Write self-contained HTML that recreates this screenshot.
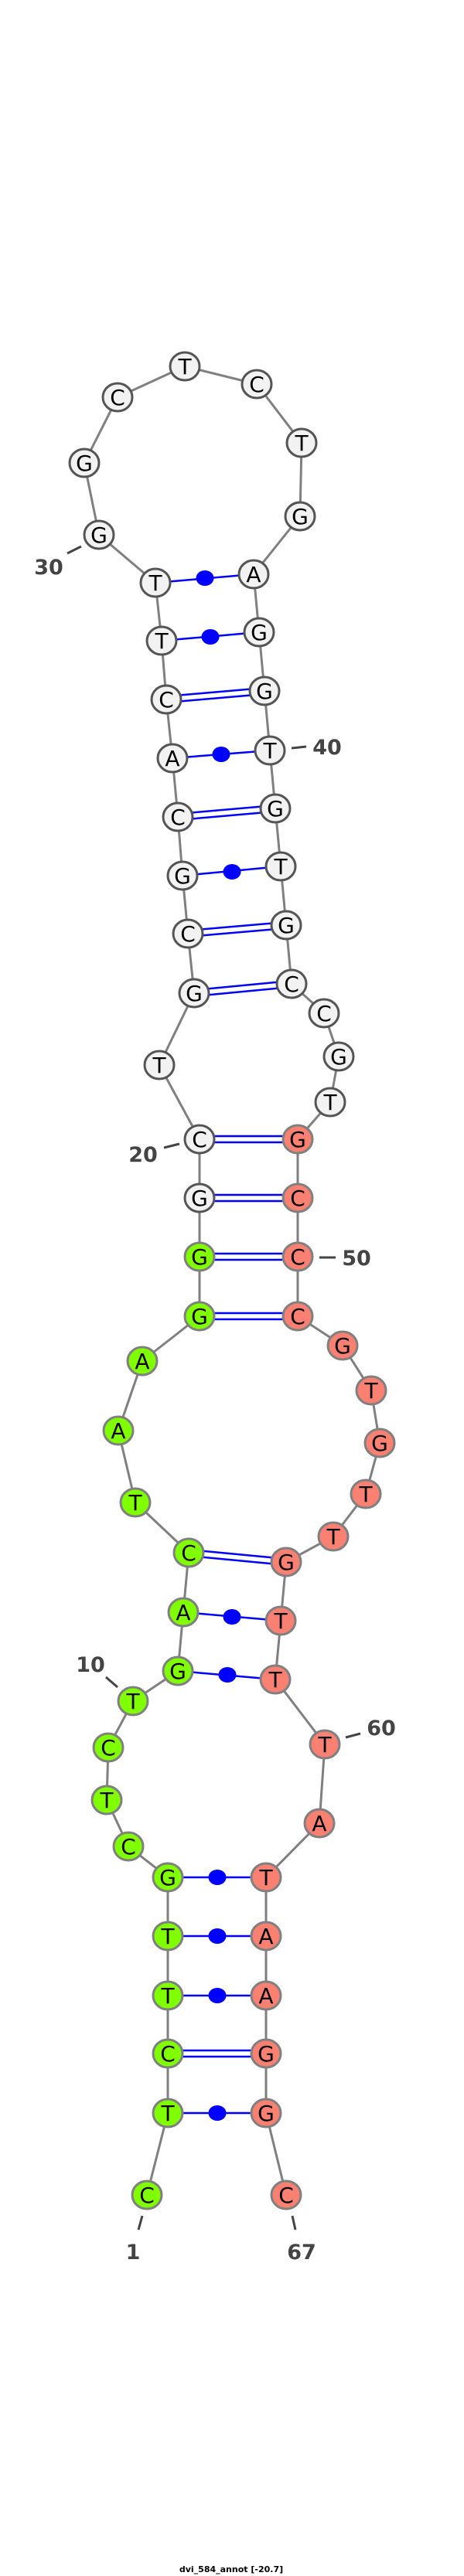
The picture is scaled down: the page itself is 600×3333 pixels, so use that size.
<!DOCTYPE html>
<html><head><meta charset="utf-8">
<style>
html,body{margin:0;padding:0;background:#fff;}
svg{display:block;}
.bb{fill:none;stroke:#808080;stroke-width:3;}
.bp{stroke:#0000ff;stroke-width:2.5;}
.dot{fill:#0000ff;}
.w{fill:#f2f2f2;stroke:#555;stroke-width:3;}
.g{fill:#7fff00;stroke:#808080;stroke-width:3;}
.r{fill:#fa8072;stroke:#808080;stroke-width:3;}
.t{font-family:"DejaVu Sans","Liberation Sans",sans-serif;font-size:28px;text-anchor:middle;fill:#000;}
.lab{font-family:"DejaVu Sans","Liberation Sans",sans-serif;font-size:27px;font-weight:bold;fill:#444;}
.tick{stroke:#444;stroke-width:3;}
</style></head><body>
<svg width="600" height="3333" viewBox="0 0 600 3333" xmlns="http://www.w3.org/2000/svg">
<polyline class="bb" points="190,2840 217,2734 217,2657 217,2582 217,2505 217,2429 166,2389 138,2329 140,2261 172,2201 230,2162 237,2086 244,2009 175,1944 153,1851 184,1761 258,1703 258,1626 258,1550 258,1474 206,1378 251,1285 243,1208 236,1133 230,1057 223,981 215,905 209,829 201,754 128,692 109,599 152,514 239,474 332,497 390,573 388,668 328,743 335,818 342,894 349,971 356,1046 363,1121 370,1197 377,1273 419,1311 438,1367 427,1426 385,1474 385,1550 385,1626 385,1703 443,1741 480,1799 491,1867 473,1933 431,1988 370,2021 363,2097 356,2173 420,2257 413,2359 344,2429 344,2505 344,2582 344,2657 344,2734 370,2840"/>
<!-- single pairs with dots -->
<g class="bp">
<line x1="217" y1="2734" x2="344" y2="2734"/>
<line x1="217" y1="2582" x2="344" y2="2582"/>
<line x1="217" y1="2505" x2="344" y2="2505"/>
<line x1="217" y1="2429" x2="344" y2="2429"/>
<line x1="230" y1="2162" x2="356" y2="2173"/>
<line x1="237" y1="2086" x2="363" y2="2097"/>
<line x1="236" y1="1133" x2="363" y2="1121"/>
<line x1="223" y1="981" x2="349" y2="971"/>
<line x1="209" y1="829" x2="335" y2="818"/>
<line x1="201" y1="754" x2="328" y2="743"/>
<!-- doubles -->
<line x1="217" y1="2653" x2="344" y2="2653"/><line x1="217" y1="2661" x2="344" y2="2661"/>
<line x1="244" y1="2005" x2="370" y2="2017"/><line x1="244" y1="2013" x2="370" y2="2025"/>
<line x1="258" y1="1699" x2="385" y2="1699"/><line x1="258" y1="1707" x2="385" y2="1707"/>
<line x1="258" y1="1622" x2="385" y2="1622"/><line x1="258" y1="1630" x2="385" y2="1630"/>
<line x1="258" y1="1546" x2="385" y2="1546"/><line x1="258" y1="1554" x2="385" y2="1554"/>
<line x1="258" y1="1470" x2="385" y2="1470"/><line x1="258" y1="1478" x2="385" y2="1478"/>
<line x1="251" y1="1281" x2="377" y2="1269"/><line x1="251" y1="1289" x2="377" y2="1277"/>
<line x1="243" y1="1204" x2="370" y2="1193"/><line x1="243" y1="1212" x2="370" y2="1201"/>
<line x1="230" y1="1053" x2="356" y2="1042"/><line x1="230" y1="1061" x2="356" y2="1050"/>
<line x1="215" y1="901" x2="342" y2="890"/><line x1="215" y1="909" x2="342" y2="898"/>
</g>
<g class="dot">
<ellipse cx="281" cy="2734" rx="11.5" ry="10"/>
<ellipse cx="281" cy="2582" rx="11.5" ry="10"/>
<ellipse cx="281" cy="2505" rx="11.5" ry="10"/>
<ellipse cx="281" cy="2429" rx="11.5" ry="10"/>
<ellipse cx="294" cy="2167" rx="11.5" ry="10"/>
<ellipse cx="300" cy="2092" rx="11.5" ry="10"/>
<ellipse cx="300" cy="1128" rx="11.5" ry="10"/>
<ellipse cx="286" cy="976" rx="11.5" ry="10"/>
<ellipse cx="272" cy="824" rx="11.5" ry="10"/>
<ellipse cx="265" cy="748" rx="11.5" ry="10"/>
</g>
<!-- nodes -->
<g>
<ellipse class="g" cx="190" cy="2840" rx="19" ry="18"/>
<ellipse class="g" cx="217" cy="2734" rx="19" ry="18"/>
<ellipse class="g" cx="217" cy="2657" rx="19" ry="18"/>
<ellipse class="g" cx="217" cy="2582" rx="19" ry="18"/>
<ellipse class="g" cx="217" cy="2505" rx="19" ry="18"/>
<ellipse class="g" cx="217" cy="2429" rx="19" ry="18"/>
<ellipse class="g" cx="166" cy="2389" rx="19" ry="18"/>
<ellipse class="g" cx="138" cy="2329" rx="19" ry="18"/>
<ellipse class="g" cx="140" cy="2261" rx="19" ry="18"/>
<ellipse class="g" cx="172" cy="2201" rx="19" ry="18"/>
<ellipse class="g" cx="230" cy="2162" rx="19" ry="18"/>
<ellipse class="g" cx="237" cy="2086" rx="19" ry="18"/>
<ellipse class="g" cx="244" cy="2009" rx="19" ry="18"/>
<ellipse class="g" cx="175" cy="1944" rx="19" ry="18"/>
<ellipse class="g" cx="153" cy="1851" rx="19" ry="18"/>
<ellipse class="g" cx="184" cy="1761" rx="19" ry="18"/>
<ellipse class="g" cx="258" cy="1703" rx="19" ry="18"/>
<ellipse class="g" cx="258" cy="1626" rx="19" ry="18"/>
<ellipse class="w" cx="258" cy="1550" rx="19" ry="18"/>
<ellipse class="w" cx="258" cy="1474" rx="19" ry="18"/>
<ellipse class="w" cx="206" cy="1378" rx="19" ry="18"/>
<ellipse class="w" cx="251" cy="1285" rx="19" ry="18"/>
<ellipse class="w" cx="243" cy="1208" rx="19" ry="18"/>
<ellipse class="w" cx="236" cy="1133" rx="19" ry="18"/>
<ellipse class="w" cx="230" cy="1057" rx="19" ry="18"/>
<ellipse class="w" cx="223" cy="981" rx="19" ry="18"/>
<ellipse class="w" cx="215" cy="905" rx="19" ry="18"/>
<ellipse class="w" cx="209" cy="829" rx="19" ry="18"/>
<ellipse class="w" cx="201" cy="754" rx="19" ry="18"/>
<ellipse class="w" cx="128" cy="692" rx="19" ry="18"/>
<ellipse class="w" cx="109" cy="599" rx="19" ry="18"/>
<ellipse class="w" cx="152" cy="514" rx="19" ry="18"/>
<ellipse class="w" cx="239" cy="474" rx="19" ry="18"/>
<ellipse class="w" cx="332" cy="497" rx="19" ry="18"/>
<ellipse class="w" cx="390" cy="573" rx="19" ry="18"/>
<ellipse class="w" cx="388" cy="668" rx="19" ry="18"/>
<ellipse class="w" cx="328" cy="743" rx="19" ry="18"/>
<ellipse class="w" cx="335" cy="818" rx="19" ry="18"/>
<ellipse class="w" cx="342" cy="894" rx="19" ry="18"/>
<ellipse class="w" cx="349" cy="971" rx="19" ry="18"/>
<ellipse class="w" cx="356" cy="1046" rx="19" ry="18"/>
<ellipse class="w" cx="363" cy="1121" rx="19" ry="18"/>
<ellipse class="w" cx="370" cy="1197" rx="19" ry="18"/>
<ellipse class="w" cx="377" cy="1273" rx="19" ry="18"/>
<ellipse class="w" cx="419" cy="1311" rx="19" ry="18"/>
<ellipse class="w" cx="438" cy="1367" rx="19" ry="18"/>
<ellipse class="w" cx="427" cy="1426" rx="19" ry="18"/>
<ellipse class="r" cx="385" cy="1474" rx="19" ry="18"/>
<ellipse class="r" cx="385" cy="1550" rx="19" ry="18"/>
<ellipse class="r" cx="385" cy="1626" rx="19" ry="18"/>
<ellipse class="r" cx="385" cy="1703" rx="19" ry="18"/>
<ellipse class="r" cx="443" cy="1741" rx="19" ry="18"/>
<ellipse class="r" cx="480" cy="1799" rx="19" ry="18"/>
<ellipse class="r" cx="491" cy="1867" rx="19" ry="18"/>
<ellipse class="r" cx="473" cy="1933" rx="19" ry="18"/>
<ellipse class="r" cx="431" cy="1988" rx="19" ry="18"/>
<ellipse class="r" cx="370" cy="2021" rx="19" ry="18"/>
<ellipse class="r" cx="363" cy="2097" rx="19" ry="18"/>
<ellipse class="r" cx="356" cy="2173" rx="19" ry="18"/>
<ellipse class="r" cx="420" cy="2257" rx="19" ry="18"/>
<ellipse class="r" cx="413" cy="2359" rx="19" ry="18"/>
<ellipse class="r" cx="344" cy="2429" rx="19" ry="18"/>
<ellipse class="r" cx="344" cy="2505" rx="19" ry="18"/>
<ellipse class="r" cx="344" cy="2582" rx="19" ry="18"/>
<ellipse class="r" cx="344" cy="2657" rx="19" ry="18"/>
<ellipse class="r" cx="344" cy="2734" rx="19" ry="18"/>
<ellipse class="r" cx="370" cy="2840" rx="19" ry="18"/>
</g>
<g class="t">
<text x="190" y="2850">C</text>
<text x="217" y="2744">T</text>
<text x="217" y="2667">C</text>
<text x="217" y="2592">T</text>
<text x="217" y="2515">T</text>
<text x="217" y="2439">G</text>
<text x="166" y="2399">C</text>
<text x="138" y="2339">T</text>
<text x="140" y="2271">C</text>
<text x="172" y="2211">T</text>
<text x="230" y="2172">G</text>
<text x="237" y="2096">A</text>
<text x="244" y="2019">C</text>
<text x="175" y="1954">T</text>
<text x="153" y="1861">A</text>
<text x="184" y="1771">A</text>
<text x="258" y="1713">G</text>
<text x="258" y="1636">G</text>
<text x="258" y="1560">G</text>
<text x="258" y="1484">C</text>
<text x="206" y="1388">T</text>
<text x="251" y="1295">G</text>
<text x="243" y="1218">C</text>
<text x="236" y="1143">G</text>
<text x="230" y="1067">C</text>
<text x="223" y="991">A</text>
<text x="215" y="915">C</text>
<text x="209" y="839">T</text>
<text x="201" y="764">T</text>
<text x="128" y="702">G</text>
<text x="109" y="609">G</text>
<text x="152" y="524">C</text>
<text x="239" y="484">T</text>
<text x="332" y="507">C</text>
<text x="390" y="583">T</text>
<text x="388" y="678">G</text>
<text x="328" y="753">A</text>
<text x="335" y="828">G</text>
<text x="342" y="904">G</text>
<text x="349" y="981">T</text>
<text x="356" y="1056">G</text>
<text x="363" y="1131">T</text>
<text x="370" y="1207">G</text>
<text x="377" y="1283">C</text>
<text x="419" y="1321">C</text>
<text x="438" y="1377">G</text>
<text x="427" y="1436">T</text>
<text x="385" y="1484">G</text>
<text x="385" y="1560">C</text>
<text x="385" y="1636">C</text>
<text x="385" y="1713">C</text>
<text x="443" y="1751">G</text>
<text x="480" y="1809">T</text>
<text x="491" y="1877">G</text>
<text x="473" y="1943">T</text>
<text x="431" y="1998">T</text>
<text x="370" y="2031">G</text>
<text x="363" y="2107">T</text>
<text x="356" y="2183">T</text>
<text x="420" y="2267">T</text>
<text x="413" y="2369">A</text>
<text x="344" y="2439">T</text>
<text x="344" y="2515">A</text>
<text x="344" y="2592">A</text>
<text x="344" y="2667">G</text>
<text x="344" y="2744">G</text>
<text x="370" y="2850">C</text>
</g>
<!-- number labels -->
<line class="tick" x1="87" y1="716" x2="105" y2="707"/>
<text class="lab" x="63" y="743" text-anchor="middle">30</text>
<line class="tick" x1="377" y1="968" x2="396" y2="966"/>
<text class="lab" x="423" y="976" text-anchor="middle">40</text>
<line class="tick" x1="212" y1="1485" x2="232" y2="1480"/>
<text class="lab" x="185" y="1503" text-anchor="middle">20</text>
<line class="tick" x1="413" y1="1627" x2="434" y2="1627"/>
<text class="lab" x="461" y="1637" text-anchor="middle">50</text>
<line class="tick" x1="137" y1="2170" x2="152" y2="2183"/>
<text class="lab" x="117" y="2163" text-anchor="middle">10</text>
<line class="tick" x1="447" y1="2248" x2="466" y2="2243"/>
<text class="lab" x="493" y="2245" text-anchor="middle">60</text>
<line class="tick" x1="184" y1="2867" x2="179" y2="2885"/>
<text class="lab" x="172" y="2923" text-anchor="middle">1</text>
<line class="tick" x1="378" y1="2867" x2="382" y2="2885"/>
<text class="lab" x="390" y="2923" text-anchor="middle">67</text>
<text x="299" y="3328" text-anchor="middle" style="font-family:'DejaVu Sans','Liberation Sans',sans-serif;font-size:11px;font-weight:bold;fill:#000;">dvi_584_annot [-20.7]</text>
</svg>
</body></html>
